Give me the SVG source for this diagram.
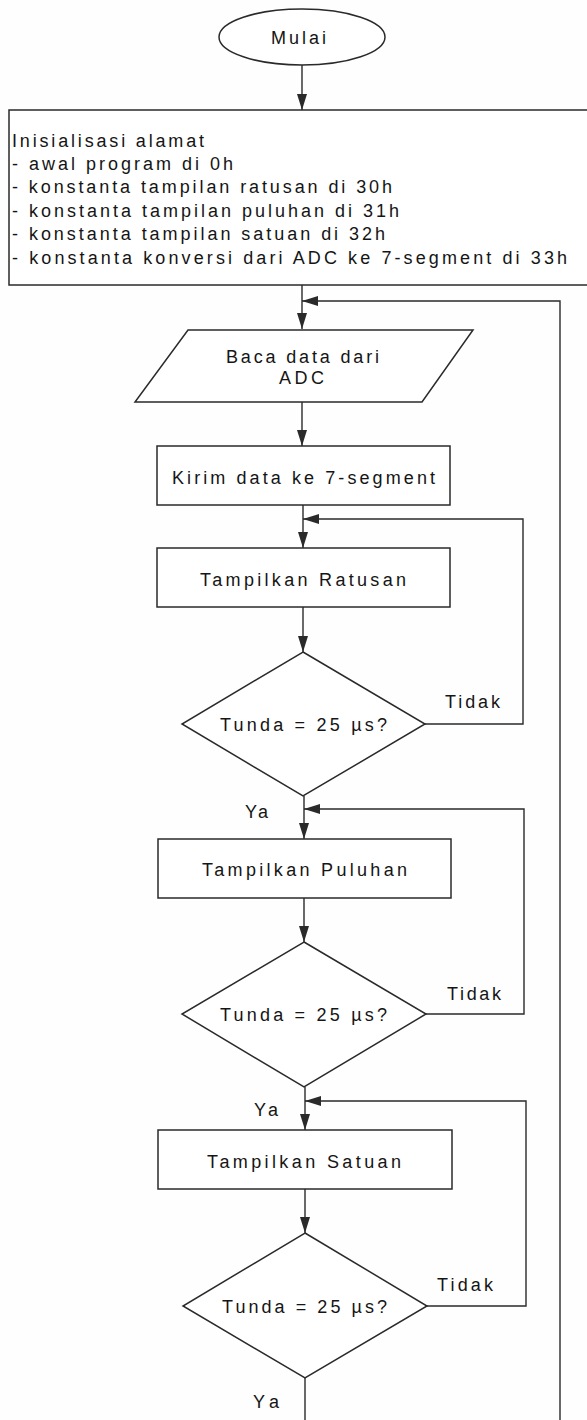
<svg xmlns="http://www.w3.org/2000/svg" width="587" height="1420" viewBox="0 0 587 1420">
<style>
.s{fill:#fff;stroke:#2a2a2a;stroke-width:1.5}
.c{fill:none;stroke:#2a2a2a;stroke-width:1.4}
text{font-family:"Liberation Sans",Arial,sans-serif;font-size:18px;fill:#151515}
</style>
<defs>
<marker id="ah" markerUnits="userSpaceOnUse" markerWidth="16" markerHeight="10" refX="16" refY="5" orient="auto">
<path d="M0,0 L16,5 L0,10 z" fill="#2a2a2a"/>
</marker>
</defs>
<rect x="0" y="0" width="587" height="1420" fill="#fefefe"/>
<g id="connectors">
<path class="c" d="M302 65 V110" marker-end="url(#ah)"/>
<path class="c" d="M302 285 V329" marker-end="url(#ah)"/>
<path class="c" d="M302 402 V446" marker-end="url(#ah)"/>
<path class="c" d="M303 505 V548" marker-end="url(#ah)"/>
<path class="c" d="M303 607 V652" marker-end="url(#ah)"/>
<path class="c" d="M304 796 V839" marker-end="url(#ah)"/>
<path class="c" d="M304 898 V942" marker-end="url(#ah)"/>
<path class="c" d="M305 1087 V1130" marker-end="url(#ah)"/>
<path class="c" d="M305 1189 V1233" marker-end="url(#ah)"/>
<path class="c" d="M305 1378 V1420"/>
<path class="c" d="M425 724 H523 V519 H303" marker-end="url(#ah)"/>
<path class="c" d="M426 1014 H524 V809 H304" marker-end="url(#ah)"/>
<path class="c" d="M427 1306 H526 V1101 H305" marker-end="url(#ah)"/>
<path class="c" d="M560 1420 V301 H302" marker-end="url(#ah)"/>
<text x="445" y="708" textLength="55" lengthAdjust="spacing">Tidak</text>
<text x="245" y="818" textLength="23" lengthAdjust="spacing">Ya</text>
<text x="447" y="1000" textLength="54" lengthAdjust="spacing">Tidak</text>
<text x="254" y="1116" textLength="24" lengthAdjust="spacing">Ya</text>
<text x="437" y="1291" textLength="56" lengthAdjust="spacing">Tidak</text>
<text x="253" y="1408" textLength="26" lengthAdjust="spacing">Ya</text>
</g>
<g id="mulai">
<ellipse class="s" cx="302" cy="37" rx="83" ry="28"/>
<text x="271" y="44" textLength="55" lengthAdjust="spacing">Mulai</text>
</g>
<g id="init">
<rect class="s" x="9" y="110" width="600" height="175"/>
<text x="12" y="147" textLength="192" lengthAdjust="spacing">Inisialisasi alamat</text>
<text x="12" y="170" textLength="221" lengthAdjust="spacing">- awal program di 0h</text>
<text x="12" y="193" textLength="380" lengthAdjust="spacing">- konstanta tampilan ratusan di 30h</text>
<text x="12" y="217" textLength="387" lengthAdjust="spacing">- konstanta tampilan puluhan di 31h</text>
<text x="12" y="240" textLength="373" lengthAdjust="spacing">- konstanta tampilan satuan di 32h</text>
<text x="12" y="264" textLength="555" lengthAdjust="spacing">- konstanta konversi dari ADC ke 7-segment di 33h</text>
</g>
<g id="baca">
<polygon class="s" points="188,330 473,330 422,402 135,402"/>
<text x="226" y="363" textLength="153" lengthAdjust="spacing">Baca data dari</text>
<text x="279" y="384" textLength="45" lengthAdjust="spacing">ADC</text>
</g>
<g id="kirim">
<rect class="s" x="157" y="446" width="293" height="59"/>
<text x="172" y="484" textLength="263" lengthAdjust="spacing">Kirim data ke 7-segment</text>
</g>
<g id="ratusan">
<rect class="s" x="157" y="548" width="293" height="59"/>
<text x="200" y="586" textLength="206" lengthAdjust="spacing">Tampilkan Ratusan</text>
</g>
<g id="tunda1">
<polygon class="s" points="303,652 425,724 303,796 182,724"/>
<text x="220" y="731" textLength="167" lengthAdjust="spacing">Tunda = 25 µs?</text>
</g>
<g id="puluhan">
<rect class="s" x="158" y="839" width="293" height="59"/>
<text x="202" y="876" textLength="205" lengthAdjust="spacing">Tampilkan Puluhan</text>
</g>
<g id="tunda2">
<polygon class="s" points="304,942 426,1014 304,1087 182,1014"/>
<text x="220" y="1021" textLength="167" lengthAdjust="spacing">Tunda = 25 µs?</text>
</g>
<g id="satuan">
<rect class="s" x="158" y="1130" width="294" height="59"/>
<text x="207" y="1168" textLength="194" lengthAdjust="spacing">Tampilkan Satuan</text>
</g>
<g id="tunda3">
<polygon class="s" points="305,1233 427,1306 305,1378 183,1306"/>
<text x="222" y="1313" textLength="165" lengthAdjust="spacing">Tunda = 25 µs?</text>
</g>
</svg>
